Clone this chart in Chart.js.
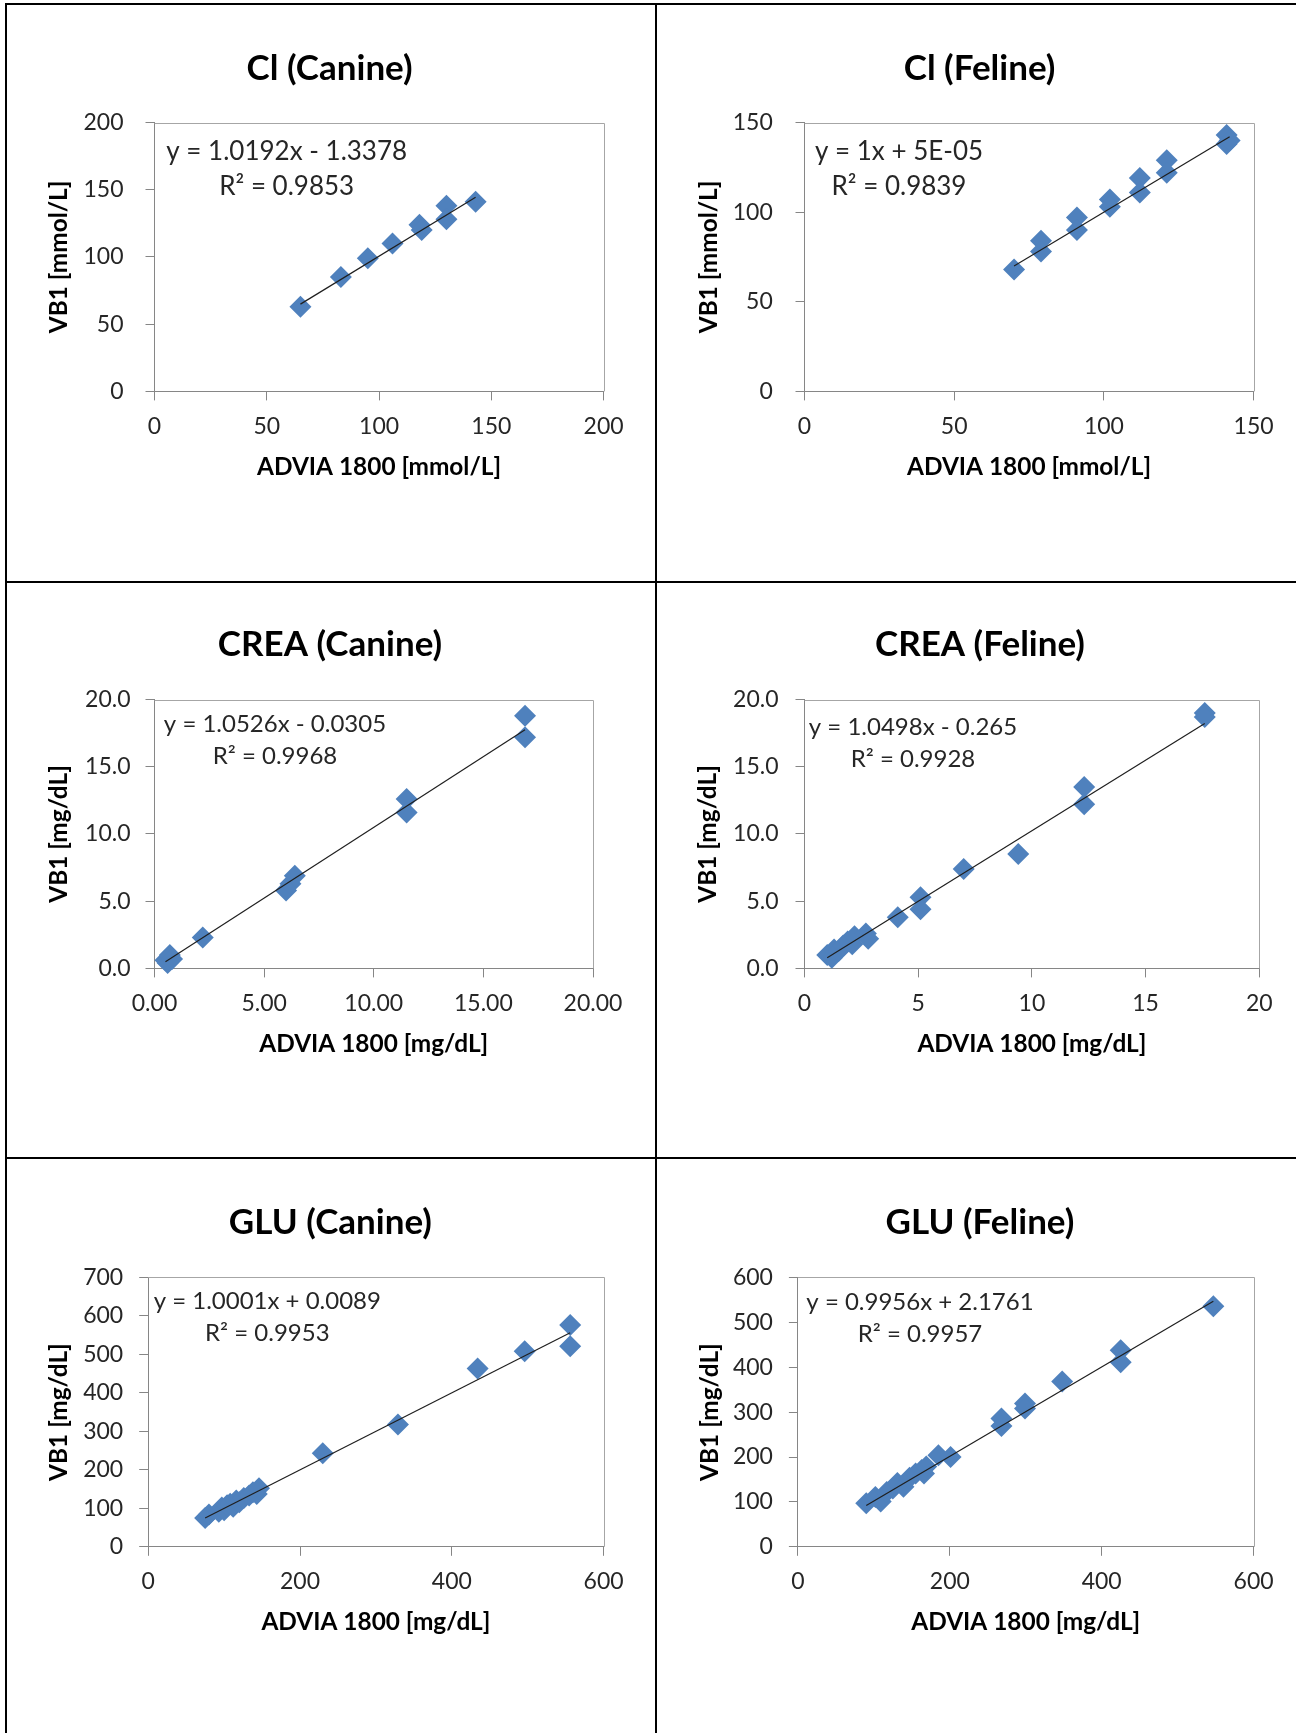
<!DOCTYPE html>
<html lang="en">
<head>
<meta charset="utf-8">
<title>VB1 vs ADVIA 1800</title>
<script src="https://cdn.jsdelivr.net/npm/chart.js@4.4.1/dist/chart.umd.min.js"></script>
<style>
  html, body { margin: 0; padding: 0; background: #fff; }
  body { position: relative; width: 1296px; height: 1733px; overflow: hidden; }
  .rule { position: absolute; background: #000; }
  canvas { position: absolute; }
</style>
</head>
<body>
<div class="rule" style="left:5px; top:3px; width:1291px; height:2px"></div>
<div class="rule" style="left:5px; top:581px; width:1291px; height:2px"></div>
<div class="rule" style="left:5px; top:1157px; width:1291px; height:2px"></div>
<div class="rule" style="left:5px; top:3px; width:2px; height:1730px"></div>
<div class="rule" style="left:655px; top:3px; width:2px; height:1730px"></div>
<script>
// Cl (Canine)
const clCanineX = [65, 83, 95, 106, 118, 119, 130, 130, 143];
const clCanineY = [63, 85, 99, 110, 124, 120, 138, 128, 141];
const clCanineFit = [1.0192, -1.3378];
const clCanineEquation = ["y = 1.0192x - 1.3378", "R² = 0.9853"];
const clCanineXTicks = ["0", "50", "100", "150", "200"];
const clCanineYTicks = ["0", "50", "100", "150", "200"];

// Cl (Feline)
const clFelineX = [70, 79, 79, 91, 91, 102, 102, 112, 112, 121, 121, 141, 141, 142];
const clFelineY = [68, 84, 78, 97, 90, 107, 103, 119, 111, 129, 122, 143, 138, 140];
const clFelineFit = [1, 0.00005];
const clFelineEquation = ["y = 1x + 5E-05", "R² = 0.9839"];
const clFelineXTicks = ["0", "50", "100", "150"];
const clFelineYTicks = ["0", "50", "100", "150"];

// CREA (Canine)
const creaCanineX = [0.5, 0.6, 0.7, 0.8, 2.2, 6.0, 6.2, 6.4, 11.5, 11.5, 16.9, 16.9];
const creaCanineY = [0.6, 0.4, 1.0, 0.7, 2.3, 5.8, 6.3, 6.9, 12.6, 11.6, 18.8, 17.2];
const creaCanineFit = [1.0526, -0.0305];
const creaCanineEquation = ["y = 1.0526x - 0.0305", "R² = 0.9968"];
const creaCanineXTicks = ["0.00", "5.00", "10.00", "15.00", "20.00"];
const creaCanineYTicks = ["0.0", "5.0", "10.0", "15.0", "20.0"];

// CREA (Feline)
const creaFelineX = [1.0, 1.2, 1.3, 1.5, 1.7, 1.9, 2.1, 2.2, 2.7, 2.8, 4.1, 5.1, 5.1, 7.0, 9.4, 12.3, 12.3, 17.6, 17.6];
const creaFelineY = [1.0, 0.8, 1.4, 1.3, 1.7, 2.0, 1.8, 2.4, 2.6, 2.2, 3.8, 5.3, 4.4, 7.4, 8.5, 13.5, 12.2, 19.0, 18.7];
const creaFelineFit = [1.0498, -0.265];
const creaFelineEquation = ["y = 1.0498x - 0.265", "R² = 0.9928"];
const creaFelineXTicks = ["0", "5", "10", "15", "20"];
const creaFelineYTicks = ["0.0", "5.0", "10.0", "15.0", "20.0"];

// GLU (Canine)
const gluCanineX = [75, 80, 93, 97, 100, 104, 108, 112, 116, 120, 126, 133, 138, 143, 146, 230, 329, 434, 496, 556, 556];
const gluCanineY = [75, 84, 91, 102, 95, 108, 112, 104, 120, 116, 127, 133, 142, 137, 152, 243, 318, 463, 508, 576, 521];
const gluCanineFit = [1.0001, 0.0089];
const gluCanineEquation = ["y = 1.0001x + 0.0089", "R² = 0.9953"];
const gluCanineXTicks = ["0", "200", "400", "600"];
const gluCanineYTicks = ["0", "100", "200", "300", "400", "500", "600", "700"];

// GLU (Feline)
const gluFelineX = [90, 102, 109, 117, 125, 131, 139, 147, 155, 163, 166, 169, 185, 201, 268, 268, 299, 299, 348, 425, 425, 547];
const gluFelineY = [97, 111, 101, 122, 130, 142, 134, 154, 163, 171, 163, 179, 204, 200, 286, 269, 319, 308, 368, 438, 411, 536];
const gluFelineFit = [0.9956, 2.1761];
const gluFelineEquation = ["y = 0.9956x + 2.1761", "R² = 0.9957"];
const gluFelineXTicks = ["0", "200", "400", "600"];
const gluFelineYTicks = ["0", "100", "200", "300", "400", "500", "600"];

const FONT = "Lato, 'Open Sans', sans-serif";
const TITLE_SIZE = 35;
const AXIS_SIZE = 24.4;
const TICK_SIZE = 23;
const TICK_LEN = 9;
const MARKER = "#4f81bd";
const AXIS_GRAY = "#868686";

Chart.defaults.font.family = FONT;

// page positions (px) of each chart: canvas rect, plot area, title centre, label spots
const panels = [
  { title: "Cl (Canine)", xTitle: "ADVIA 1800 [mmol/L]", yTitle: "VB1 [mmol/L]",
    x: clCanineX, y: clCanineY, fit: clCanineFit, eq: clCanineEquation,
    xTicks: clCanineXTicks, yTicks: clCanineYTicks,
    canvas: [7, 5, 648, 576], plot: [154.5, 603.6, 122.5, 391.4],
    titleAt: [329.6, 68.6], yTitleX: 59, yBoxLeft: 40, yGap: 31, eqAt: [286.7, 152, 187], eqSize: 26 },
  { title: "Cl (Feline)", xTitle: "ADVIA 1800 [mmol/L]", yTitle: "VB1 [mmol/L]",
    x: clFelineX, y: clFelineY, fit: clFelineFit, eq: clFelineEquation,
    xTicks: clFelineXTicks, yTicks: clFelineYTicks,
    canvas: [657, 5, 639, 576], plot: [804.5, 1253.6, 122.5, 391.4],
    titleAt: [979.6, 68.6], yTitleX: 709, yBoxLeft: 690, yGap: 31.7, eqAt: [899, 152, 187], eqSize: 26 },
  { title: "CREA (Canine)", xTitle: "ADVIA 1800 [mg/dL]", yTitle: "VB1 [mg/dL]",
    x: creaCanineX, y: creaCanineY, fit: creaCanineFit, eq: creaCanineEquation,
    xTicks: creaCanineXTicks, yTicks: creaCanineYTicks,
    canvas: [7, 583, 648, 574], plot: [154.5, 593, 699.5, 968.4],
    titleAt: [330, 645], yTitleX: 59, yBoxLeft: 40, yGap: 24, eqAt: [275, 724, 756.5], eqSize: 24 },
  { title: "CREA (Feline)", xTitle: "ADVIA 1800 [mg/dL]", yTitle: "VB1 [mg/dL]",
    x: creaFelineX, y: creaFelineY, fit: creaFelineFit, eq: creaFelineEquation,
    xTicks: creaFelineXTicks, yTicks: creaFelineYTicks,
    canvas: [657, 583, 639, 574], plot: [804.5, 1259.3, 699.5, 968.4],
    titleAt: [980, 645], yTitleX: 708, yBoxLeft: 690, yGap: 26, eqAt: [913, 727, 759], eqSize: 24 },
  { title: "GLU (Canine)", xTitle: "ADVIA 1800 [mg/dL]", yTitle: "VB1 [mg/dL]",
    x: gluCanineX, y: gluCanineY, fit: gluCanineFit, eq: gluCanineEquation,
    xTicks: gluCanineXTicks, yTicks: gluCanineYTicks,
    canvas: [7, 1159, 648, 574], plot: [148.2, 603.6, 1277.4, 1546.8],
    titleAt: [330.4, 1222.5], yTitleX: 59, yBoxLeft: 40, yGap: 25, eqAt: [267.3, 1301, 1333.5], eqSize: 24 },
  { title: "GLU (Feline)", xTitle: "ADVIA 1800 [mg/dL]", yTitle: "VB1 [mg/dL]",
    x: gluFelineX, y: gluFelineY, fit: gluFelineFit, eq: gluFelineEquation,
    xTicks: gluFelineXTicks, yTicks: gluFelineYTicks,
    canvas: [657, 1159, 639, 574], plot: [797.9, 1253.6, 1277.4, 1546.8],
    titleAt: [980, 1222.5], yTitleX: 709.7, yBoxLeft: 690, yGap: 25, eqAt: [920, 1302, 1334.5], eqSize: 24 }
];

// light frame on the top and right of the plot area
const plotFrame = {
  id: "plotFrame",
  beforeDatasetsDraw(chart) {
    const { ctx, chartArea: a } = chart;
    const top = Math.round(a.top) + 0.5;
    const right = Math.round(a.right) + 0.5;
    ctx.save();
    ctx.strokeStyle = "#a6a6a6";
    ctx.lineWidth = 1;
    ctx.beginPath();
    ctx.moveTo(a.left, top);
    ctx.lineTo(right, top);
    ctx.lineTo(right, a.bottom);
    ctx.stroke();
    ctx.restore();
  }
};

function equationLabel(lines, size, x, ys) {
  return {
    id: "equationLabel",
    afterDatasetsDraw(chart) {
      const ctx = chart.ctx;
      ctx.save();
      ctx.font = `${size}px ${FONT}`;
      ctx.fillStyle = "#262626";
      ctx.textAlign = "center";
      ctx.textBaseline = "middle";
      lines.forEach((t, i) => ctx.fillText(t, x, ys[i]));
      ctx.restore();
    }
  };
}

function valueAxis(labels, title, tickPadding, titlePadding, fit) {
  return {
    type: "linear",
    min: parseFloat(labels[0]),
    max: parseFloat(labels[labels.length - 1]),
    afterBuildTicks: s => { s.ticks = labels.map(l => ({ value: parseFloat(l) })); },
    afterFit: fit,
    border: { display: true, color: AXIS_GRAY, width: 1 },
    grid: { drawOnChartArea: false, drawTicks: true, tickLength: TICK_LEN, color: AXIS_GRAY, lineWidth: 1 },
    ticks: {
      callback: (v, i) => labels[i],
      padding: tickPadding,
      color: "#262626",
      font: { size: TICK_SIZE },
      maxRotation: 0,
      autoSkip: false
    },
    title: {
      display: true,
      text: title,
      color: "#000",
      font: { size: AXIS_SIZE, weight: "bold", lineHeight: 1.2 },
      padding: titlePadding
    }
  };
}

function drawPanel(p) {
  const [cl, ct, cw, ch] = p.canvas;
  const [pl, pr, pt, pb] = p.plot;
  const titleLH = TITLE_SIZE * 1.2;
  const axisLH = AXIS_SIZE * 1.2;
  const tickLH = TICK_SIZE * 1.2;

  const spacerW = 2 * p.titleAt[0] - p.yBoxLeft - pr;
  const padL = p.yBoxLeft - cl;
  const padR = cl + cw - pr - spacerW;
  const padT = p.titleAt[1] - ct - titleLH / 2;
  const titleGap = pt - ct - padT - titleLH;
  const xBoxH = 75.5 + axisLH / 2;
  const padB = ct + ch - pb - xBoxH;
  const yBoxW = pl - p.yBoxLeft;

  const canvas = document.createElement("canvas");
  canvas.width = cw;
  canvas.height = ch;
  canvas.style.left = cl + "px";
  canvas.style.top = ct + "px";
  document.body.appendChild(canvas);

  const points = p.x.map((v, i) => ({ x: v, y: p.y[i] }));
  const ends = [Math.min(...p.x), Math.max(...p.x)];
  const trend = ends.map(v => ({ x: v, y: p.fit[0] * v + p.fit[1] }));

  new Chart(canvas, {
    type: "scatter",
    data: {
      datasets: [
        {
          type: "line",
          data: trend,
          borderColor: "#1f1f1f",
          borderWidth: 1.2,
          pointRadius: 0,
          fill: false,
          order: 0,
          clip: false
        },
        {
          data: points,
          pointStyle: "rectRot",
          pointRadius: 11,
          backgroundColor: MARKER,
          borderWidth: 0,
          order: 1,
          clip: false
        }
      ]
    },
    options: {
      responsive: false,
      animation: false,
      devicePixelRatio: 1,
      events: [],
      layout: { autoPadding: false, padding: { left: padL, right: padR, top: padT, bottom: padB } },
      plugins: {
        legend: { display: false },
        tooltip: { enabled: false },
        title: {
          display: true,
          text: p.title,
          color: "#000",
          font: { size: TITLE_SIZE, weight: "bold", lineHeight: 1.2 },
          padding: { top: 0, bottom: titleGap }
        }
      },
      scales: {
        x: valueAxis(p.xTicks, p.xTitle, 35 - TICK_LEN - tickLH / 2, { top: 0, bottom: 0 },
          s => { s.height = xBoxH; }),
        y: valueAxis(p.yTicks, p.yTitle, p.yGap - TICK_LEN, { top: p.yTitleX - p.yBoxLeft - axisLH / 2, bottom: 0 },
          s => { s.width = yBoxW; }),
        spacer: {
          type: "linear",
          position: "right",
          grid: { display: false },
          border: { display: false },
          ticks: { display: false },
          afterFit: s => { s.width = spacerW; }
        }
      }
    },
    plugins: [plotFrame, equationLabel(p.eq, p.eqSize, p.eqAt[0] - cl, p.eqAt.slice(1).map(v => v - ct))]
  });
}

panels.forEach(drawPanel);
</script>
</body>
</html>
